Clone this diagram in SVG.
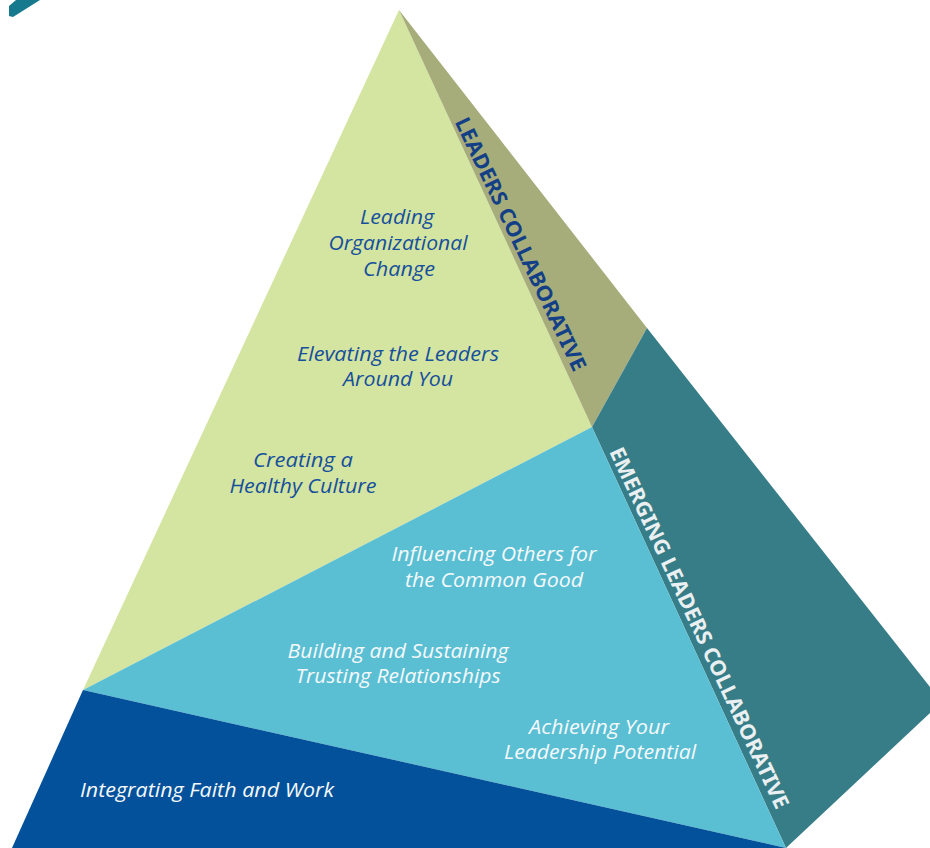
<svg xmlns="http://www.w3.org/2000/svg" width="930" height="848" viewBox="0 0 930 848">
<style>
.t{font-family:"Open Sans","Noto Sans","Liberation Sans",sans-serif;font-style:italic;font-size:20px;text-anchor:middle}
.tb{fill:#16509c}
.tw{fill:#f5f9fb}
.cap{font-family:"Noto Sans","Open Sans","Liberation Sans",sans-serif;font-weight:700;font-size:21px;text-anchor:middle}
</style>
<rect width="930" height="848" fill="#ffffff"/>
<g id="corner-mark"><polygon points="9,6 16,0 40,0 13,17 9,16" fill="#17798d"/></g>
<g id="face-leaders"><polygon points="399,10 592,427 83,690" fill="#d4e4a1"/></g>
<g id="side-leaders"><polygon points="399,10 647,328 592,427" fill="#a6ad7a"/></g>
<g id="side-emerging"><polygon points="647,328 930,687 930,713 786,848 592,427" fill="#377d87"/></g>
<g id="face-emerging"><polygon points="83,690 592,427 786,848" fill="#5bbfd4"/></g>
<g id="base"><polygon points="83,690 786,848 12,848" fill="#03519a"/></g>
<g id="label-leaders-collaborative">
<text class="cap" fill="#123f86" transform="translate(521,244) rotate(64.6)" y="7.5" textLength="278" lengthAdjust="spacingAndGlyphs">LEADERS COLLABORATIVE</text>
</g>
<g id="label-emerging-collaborative">
<text class="cap" fill="#eaf0f2" transform="translate(699,628) rotate(65)" y="7" textLength="396" lengthAdjust="spacingAndGlyphs">EMERGING LEADERS COLLABORATIVE</text>
</g>
<g id="node-leading-change">
<text class="t tb" x="397" y="224" textLength="74" lengthAdjust="spacingAndGlyphs">Leading</text>
<text class="t tb" x="398" y="250" textLength="139" lengthAdjust="spacingAndGlyphs">Organizational</text>
<text class="t tb" x="399" y="276" textLength="72" lengthAdjust="spacingAndGlyphs">Change</text>
</g>
<g id="node-elevating">
<text class="t tb" x="398" y="361" textLength="202" lengthAdjust="spacingAndGlyphs">Elevating the Leaders</text>
<text class="t tb" x="398" y="386" textLength="110" lengthAdjust="spacingAndGlyphs">Around You</text>
</g>
<g id="node-culture">
<text class="t tb" x="303" y="467" textLength="100" lengthAdjust="spacingAndGlyphs">Creating a</text>
<text class="t tb" x="303" y="493" textLength="147" lengthAdjust="spacingAndGlyphs">Healthy Culture</text>
</g>
<g id="node-influencing">
<text class="t tw" x="494" y="561" textLength="205" lengthAdjust="spacingAndGlyphs">Influencing Others for</text>
<text class="t tw" x="494" y="587" textLength="178" lengthAdjust="spacingAndGlyphs">the Common Good</text>
</g>
<g id="node-building">
<text class="t tw" x="398" y="658" textLength="221" lengthAdjust="spacingAndGlyphs">Building and Sustaining</text>
<text class="t tw" x="398" y="683" textLength="205" lengthAdjust="spacingAndGlyphs">Trusting Relationships</text>
</g>
<g id="node-achieving">
<text class="t tw" x="599" y="734" textLength="140" lengthAdjust="spacingAndGlyphs">Achieving Your</text>
<text class="t tw" x="600" y="759" textLength="192" lengthAdjust="spacingAndGlyphs">Leadership Potential</text>
</g>
<g id="node-integrating">
<text class="t tw" x="207" y="797" textLength="254" lengthAdjust="spacingAndGlyphs">Integrating Faith and Work</text>
</g>
<g id="connectors"></g>
</svg>
